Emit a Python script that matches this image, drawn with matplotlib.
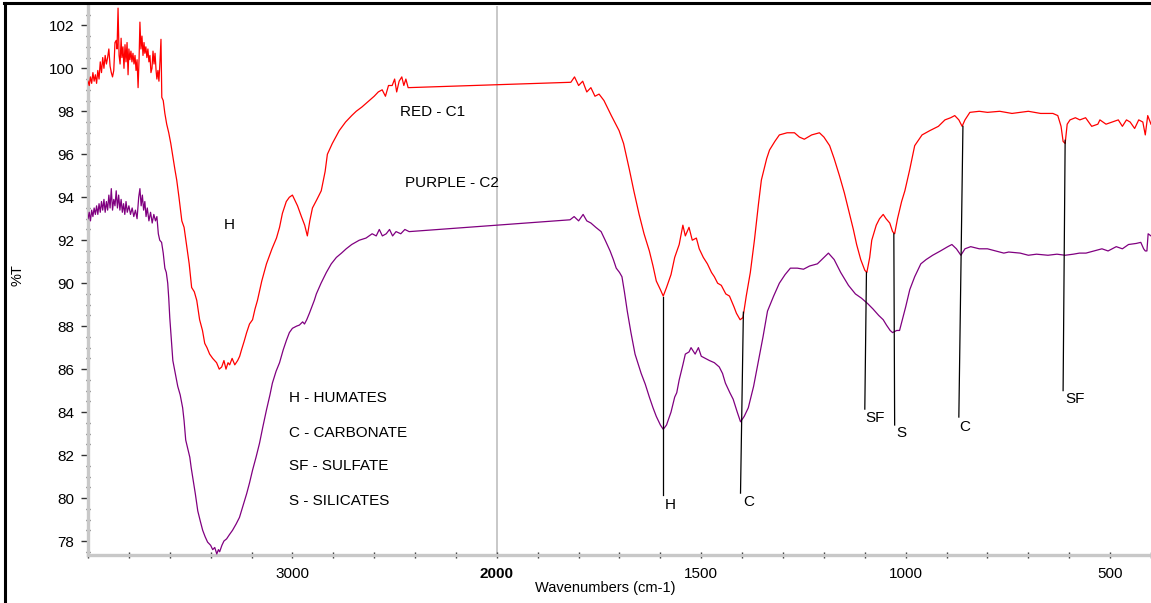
import numpy as np
import matplotlib
matplotlib.use('Agg')
import matplotlib.pyplot as plt
from matplotlib.ticker import FixedLocator, MultipleLocator
from matplotlib.lines import Line2D

plt.rcParams['font.family'] = ['Liberation Sans', 'DejaVu Sans']

# ---------------- data ----------------
red_wn = [4000, 3994, 3988, 3982, 3976, 3970, 3964, 3958, 3952, 3946,
          3940, 3934, 3928, 3922, 3916, 3910, 3904, 3898, 3892, 3886,
          3880, 3874, 3868, 3862, 3858, 3853, 3848, 3843, 3838, 3834,
          3829, 3824, 3819, 3814, 3809, 3804, 3800, 3795, 3790, 3785,
          3780, 3775, 3770, 3765, 3760, 3755, 3750, 3746, 3741, 3736,
          3731, 3726, 3722, 3717, 3712, 3707, 3702, 3697, 3692, 3687,
          3682, 3677, 3672, 3667, 3663, 3658, 3653, 3648, 3643, 3639,
          3632, 3624, 3615, 3605, 3595, 3585, 3575, 3566, 3555, 3541,
          3530, 3517, 3505, 3493, 3480, 3468, 3454, 3440, 3429, 3418, 3405, 3390,
          3371, 3358, 3346, 3335, 3325, 3315, 3307, 3295, 3282, 3268, 3258, 3249, 3236, 3224,
          3210, 3195, 3183, 3171, 3150, 3127, 3100, 3078, 3063, 3049, 3030, 3015, 3000, 2990,
          2975, 2956, 2940, 2927, 2915, 2902, 2880, 2859, 2840, 2829, 2805, 2771, 2740, 2710,
          2688, 2660, 2624, 2600, 2580, 2561, 2545, 2530, 2512, 2500, 2490, 2478, 2465, 2455,
          2445, 2434, 1819, 1810, 1800, 1790, 1780, 1770, 1760, 1750, 1738, 1720, 1701, 1690,
          1676, 1665, 1652, 1640, 1627, 1618, 1610, 1600, 1593, 1585, 1574, 1565, 1554, 1545,
          1539, 1530, 1522, 1512, 1505, 1495, 1485, 1475, 1468, 1460, 1451, 1440, 1431, 1420,
          1414, 1405, 1398, 1390, 1380, 1370, 1360, 1353, 1340, 1333, 1320, 1309, 1290, 1272,
          1260, 1248, 1230, 1211, 1200, 1186, 1175, 1162, 1150, 1137, 1128, 1120, 1110, 1100,
          1095, 1088, 1083, 1072, 1064, 1055, 1048, 1039, 1032, 1027, 1020, 1010, 1002, 990,
          978, 960, 941, 920, 904, 890, 880, 870, 862, 855, 843, 820, 800, 770, 740, 700, 670,
          640, 628, 620, 615, 610, 605, 598, 585, 574, 560, 545, 530, 525, 510, 495, 480, 470,
          460, 451, 440, 430, 420, 414, 408, 400]
red_T = [99.4, 99.2, 99.6, 99.3, 99.8, 99.4, 99.7, 99.3, 99.9, 99.5,
         100.3, 99.8, 100.5, 100.0, 100.6, 100.2, 100.5, 100.9, 100.1, 99.8,
         99.6, 99.9, 101.2, 101.3, 100.9, 102.8, 100.6, 100.2, 101.4, 100.5,
         101.0, 100.0, 101.1, 100.3, 101.2, 99.7, 100.9, 100.4, 100.8, 100.3,
         100.7, 100.2, 100.6, 99.9, 100.4, 99.1, 100.5, 102.15, 100.9, 101.5,
         100.6, 101.2, 100.7, 101.0, 100.5, 100.9, 100.3, 100.6, 99.8, 100.0,
         100.8, 100.2, 100.7, 99.9, 99.5, 99.9, 99.4, 100.3, 101.35, 98.65,
         98.5, 97.9, 97.4, 97.0, 96.5, 95.9, 95.3, 94.8, 94.0, 92.9,
         92.6, 91.7, 90.9, 89.8, 89.6, 89.2, 88.3, 87.8, 87.2, 87.0, 86.7, 86.5,
         86.3, 86.0, 86.1, 86.4, 86.0, 86.3, 86.2, 86.5, 86.2, 86.4, 86.6, 86.9, 87.3, 87.7,
         88.1, 88.3, 88.8, 89.2, 90.1, 90.9, 91.6, 92.1, 92.6, 93.25, 93.8, 94.0, 94.1, 93.9,
         93.6, 93.1, 92.7, 92.2, 92.9, 93.5, 93.9, 94.3, 95.2, 96.0, 96.5, 97.1, 97.5, 97.8,
         98.0, 98.2, 98.5, 98.7, 98.9, 99.0, 98.7, 99.2, 99.2, 99.5, 98.9, 99.4, 99.6, 99.2,
         99.5, 99.1, 99.35, 99.6, 99.2, 99.4, 98.9, 99.1, 98.7, 98.8, 98.5, 97.8, 97.1, 96.5,
         95.3, 94.3, 93.2, 92.3, 91.5, 90.8, 90.1, 89.7, 89.4, 89.8, 90.4, 91.2, 91.8, 92.7,
         92.2, 92.6, 92.0, 92.1, 91.6, 91.2, 90.9, 90.5, 90.3, 90.0, 89.9, 89.5, 89.4, 88.9,
         88.6, 88.3, 88.4, 89.4, 90.5, 92.0, 93.7, 94.8, 95.8, 96.2, 96.6, 96.9, 97.0, 97.0,
         96.8, 96.7, 96.9, 97.0, 96.8, 96.4, 95.8, 95.0, 94.2, 93.2, 92.5, 91.8, 91.1, 90.6,
         90.5, 91.2, 92.0, 92.7, 93.0, 93.2, 93.0, 92.8, 92.4, 92.3, 93.0, 93.8, 94.3, 95.3,
         96.4, 96.9, 97.1, 97.3, 97.6, 97.7, 97.8, 97.6, 97.3, 97.6, 97.95, 98.0, 97.95, 98.0, 97.9, 98.0, 97.9,
         97.9, 97.8, 97.3, 96.6, 96.5, 97.4, 97.6, 97.7, 97.6, 97.7, 97.3, 97.4, 97.6, 97.4, 97.5, 97.6, 97.3,
         97.6, 97.5, 97.2, 97.6, 97.5, 96.9, 97.8, 97.4]

purple_wn = [4000, 3994, 3988, 3982, 3976, 3970, 3964, 3958, 3952, 3946, 3940, 3934, 3928, 3922,
             3916, 3910, 3904, 3898, 3892, 3886, 3880, 3874, 3868, 3862, 3856, 3850, 3844, 3838,
             3832, 3826, 3820, 3814, 3808, 3800, 3792, 3784, 3776, 3768, 3760, 3752, 3746, 3740,
             3734, 3728, 3722, 3716, 3710, 3702, 3694, 3686, 3678, 3670, 3663, 3656, 3649, 3640,
             3632, 3624, 3617, 3610, 3605, 3600, 3592, 3585, 3573, 3561, 3549, 3537, 3530, 3522,
             3512, 3502, 3495, 3488, 3475, 3463, 3450, 3439, 3427, 3415, 3400, 3390, 3380, 3370,
             3362, 3356, 3345, 3335, 3322, 3308, 3293, 3275, 3259, 3240, 3224, 3210, 3195, 3178,
             3161, 3145, 3127, 3110, 3098, 3080, 3063, 3045, 3029, 3015, 3000, 2980, 2966, 2950,
             2941, 2930, 2917, 2905, 2893, 2883, 2860, 2834, 2810, 2785, 2760, 2737, 2710, 2673,
             2640, 2610, 2590, 2575, 2560, 2541, 2525, 2510, 2493, 2470, 2450, 2429, 1821, 1811,
             1800, 1789, 1780, 1770, 1758, 1745, 1735, 1723, 1715, 1708, 1700, 1694, 1688, 1681,
             1672, 1662, 1647, 1637, 1627, 1618, 1610, 1600, 1593, 1585, 1574, 1565, 1560, 1554,
             1545, 1539, 1530, 1525, 1515, 1507, 1500, 1490, 1480, 1468, 1456, 1448, 1441, 1430,
             1422, 1412, 1404, 1395, 1385, 1372, 1360, 1349, 1338, 1323, 1309, 1295, 1282, 1265,
             1250, 1235, 1216, 1200, 1189, 1175, 1159, 1140, 1123, 1108, 1093, 1080, 1066, 1055,
             1047, 1038, 1032, 1022, 1015, 1000, 990, 978, 963, 950, 934, 915, 897, 887, 876,
             865, 855, 841, 820, 800, 780, 760, 748, 720, 700, 680, 652, 630, 610, 590, 575,
             559, 540, 520, 505, 485, 470, 455, 436, 425, 418, 414, 410, 407, 400]
purple_T = [93.0, 93.3, 92.9, 93.4, 93.1, 93.5, 93.2, 93.6, 93.2, 93.7, 93.3, 93.8, 93.4, 93.9,
            93.3, 93.8, 93.4, 94.1, 93.5, 94.4, 93.4, 93.9, 93.6, 94.3, 93.5, 94.1, 93.4, 93.9,
            93.3, 93.7, 93.2, 93.8, 93.3, 93.6, 93.2, 93.5, 93.1, 93.4, 93.0, 94.0, 94.4, 93.6,
            94.1, 93.4, 93.8, 93.1, 93.5, 92.9, 93.3, 92.8, 93.2, 92.9, 93.1, 92.3, 92.0, 91.9,
            91.4, 90.7, 90.5, 90.0, 89.3, 88.4, 87.3, 86.4, 85.8, 85.2, 84.8, 84.2, 83.6, 82.7,
            82.3, 81.9, 81.4, 80.97, 80.2, 79.4, 78.9, 78.5, 78.2, 77.95, 77.8, 77.6, 77.7, 77.4,
            77.6, 77.5, 77.8, 78.0, 78.1, 78.3, 78.5, 78.8, 79.1, 79.7, 80.2, 80.7, 81.3, 81.9,
            82.55, 83.3, 84.1, 84.8, 85.35, 85.9, 86.3, 86.9, 87.35, 87.7, 87.9, 88.0, 88.05, 88.2,
            88.1, 88.3, 88.6, 88.9, 89.2, 89.5, 90.0, 90.5, 90.9, 91.2, 91.4, 91.6, 91.8, 92.0,
            92.1, 92.3, 92.2, 92.5, 92.2, 92.3, 92.5, 92.2, 92.4, 92.3, 92.5, 92.4, 92.95, 93.1,
            92.9, 93.2, 92.9, 92.8, 92.6, 92.4, 92.0, 91.5, 91.1, 90.7, 90.5, 90.3, 89.6, 88.7,
            87.7, 86.7, 85.8, 85.3, 84.7, 84.2, 83.8, 83.4, 83.2, 83.4, 84.0, 84.7, 84.9, 85.5,
            86.2, 86.7, 86.8, 87.0, 86.7, 87.0, 86.6, 86.5, 86.4, 86.3, 86.1, 85.8, 85.35, 84.9,
            84.6, 84.0, 83.55, 83.8, 84.2, 85.2, 86.4, 87.5, 88.7, 89.4, 90.0, 90.4, 90.7, 90.7,
            90.65, 90.8, 90.9, 91.2, 91.4, 91.1, 90.5, 89.9, 89.5, 89.3, 89.05, 88.8, 88.5, 88.3,
            88.05, 87.8, 87.7, 87.8, 87.8, 88.9, 89.7, 90.3, 90.9, 91.1, 91.3, 91.5, 91.7, 91.8, 91.6,
            91.3, 91.6, 91.7, 91.6, 91.6, 91.5, 91.4, 91.45, 91.4, 91.3, 91.35, 91.3, 91.35, 91.3, 91.35, 91.4,
            91.4, 91.5, 91.6, 91.5, 91.7, 91.6, 91.8, 91.85, 91.9, 91.6, 91.5, 91.5, 92.3, 92.2]

# peak marker lines and their labels
peak_labels = ['H', 'C', 'SF', 'S', 'C', 'SF']
peak_top_wn = [1593, 1397, 1096, 1029, 860, 610]
peak_top_T = [89.35, 88.65, 90.5, 92.3, 97.3, 96.65]
peak_bot_wn = [1593, 1404, 1100, 1027, 870, 615]
peak_bot_T = [80.14, 80.23, 84.14, 83.4, 83.77, 85.0]
peak_text_wn = [1576, 1385, 1074, 1010, 856, 586]
peak_text_T = [79.68, 79.82, 83.73, 83.03, 83.31, 84.62]

key_lines = ['H - HUMATES', 'C - CARBONATE', 'SF - SULFATE', 'S - SILICATES']
key_T = [84.66, 83.03, 81.5, 79.87]
key_wn = 3017

x_major = [3000, 2000, 1500, 1000, 500]
x_major_labels = ['3000', '2000', '1500', '1000', '500']
x_minor = list(range(4000, 2000, -200)) + list(range(1900, 399, -100))


# ---------------- OMNIC-style compressed scale above 2000 cm-1 ----------------
def fwd(w):
    w = np.asarray(w, dtype=float)
    return np.where(w > 2000, 2000 + (w - 2000) * 0.5, w)


def inv(u):
    u = np.asarray(u, dtype=float)
    return np.where(u > 2000, 2000 + (u - 2000) * 2.0, u)


W, H = 1151, 603
fig = plt.figure(figsize=(W / 100, H / 100), dpi=100)
ax = fig.add_axes([88 / W, 1 - 555 / H, (W - 88) / W, (555 - 6) / H])
ax.set_xscale('function', functions=(fwd, inv))
ax.set_xlim(4000, 400)
ax.set_ylim(77.35, 102.9)

ax.axvline(2000, color='#c4c4c4', lw=1.3, zorder=1)

ax.plot(red_wn, red_T, color='#ff0000', lw=0.9, zorder=3)
ax.plot(purple_wn, purple_T, color='#800080', lw=0.9, zorder=3)

for lab, tw, tt, bw, bt, xw, xt in zip(peak_labels, peak_top_wn, peak_top_T, peak_bot_wn,
                                        peak_bot_T, peak_text_wn, peak_text_T):
    ax.plot([tw, bw], [tt, bt], color='black', lw=0.9, zorder=4)
    ax.text(xw, xt, lab, ha='center', va='center', fontsize=11, color='black')

ax.text(3310, 92.71, 'H', ha='center', va='center', fontsize=11)
ax.text(2474, 97.97, 'RED - C1', ha='left', va='center', fontsize=11)
ax.text(2449, 94.67, 'PURPLE - C2', ha='left', va='center', fontsize=11)
for s, t in zip(key_lines, key_T):
    ax.text(key_wn, t, s, ha='left', va='center', fontsize=11)

# axes styling
for side in ['top', 'right']:
    ax.spines[side].set_visible(False)
for side in ['left', 'bottom']:
    ax.spines[side].set_color('#c8c8c8')
    ax.spines[side].set_linewidth(2.4)

ax.xaxis.set_major_locator(FixedLocator(x_major))
ax.xaxis.set_minor_locator(FixedLocator(x_minor))
ax.set_xticks(x_major, x_major_labels)
ax.get_xticklabels()[1].set_fontweight('bold')
ax.yaxis.set_major_locator(MultipleLocator(2))
ax.yaxis.set_minor_locator(MultipleLocator(0.5))

ax.tick_params(axis='x', which='both', direction='inout', length=4, width=1,
               color='#333333', labelsize=11, pad=7)
ax.tick_params(axis='y', which='major', direction='out', length=5, width=1,
               color='#333333', labelsize=11, pad=5)
ax.tick_params(axis='y', which='minor', direction='inout', length=3, width=1,
               color='#333333')

fig.text(605 / W, 1 - 588 / H, 'Wavenumbers (cm-1)', ha='center', va='center', fontsize=10.5)
fig.text(18 / W, 1 - 275 / H, '%T', ha='center', va='center', rotation=90, fontsize=10.5)

# black frame fragments
fig.add_artist(Line2D([4 / W, 1], [1 - 2.5 / H, 1 - 2.5 / H], color='black', lw=2.2,
                      transform=fig.transFigure))
fig.add_artist(Line2D([4.5 / W, 4.5 / W], [0, 1 - 2.5 / H], color='black', lw=2.2,
                      transform=fig.transFigure))

fig.savefig('out.png', dpi=100)
